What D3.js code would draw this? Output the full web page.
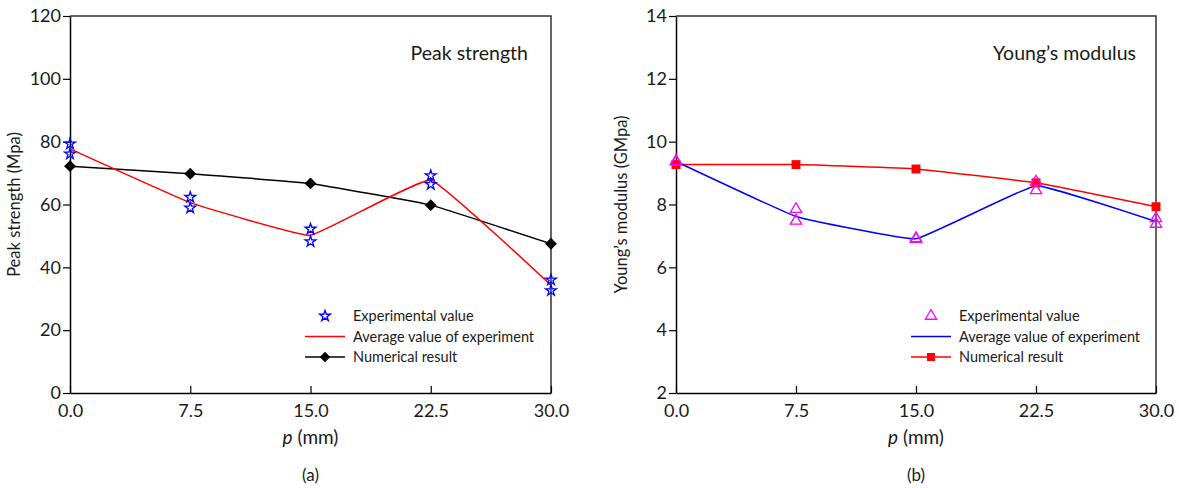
<!DOCTYPE html>
<html>
<head>
<meta charset="utf-8">
<script src="https://cdn.jsdelivr.net/npm/d3@7"></script>
<style>
  body { margin: 0; background: #fff; }
  svg { font-family: Lato, "Open Sans", sans-serif; }
</style>
</head>
<body>
<svg id="drawing_region" width="1179" height="488"></svg>
<script>
// p values (mm) and tick labels
const pValues = [0, 7.5, 15, 22.5, 30];
const xTicks = [0, 7.5, 15, 22.5, 30];

// (a) peak strength, MPa
const strengthExp1 = [79.3, 62.3, 52.2, 69.2, 36.0];
const strengthExp2 = [76.1, 58.9, 48.2, 66.4, 32.6];
const strengthAvg  = [77.7, 60.6, 50.2, 67.8, 34.3];
const strengthNum  = [72.2, 69.8, 66.7, 59.8, 47.5];
const strengthTicks = [0, 20, 40, 60, 80, 100, 120];

// (b) Young's modulus, GPa
const modulusExp1 = [9.38, 7.85, 6.92, 8.72, 7.56];
const modulusExp2 = [9.36, 7.48, 6.90, 8.45, 7.38];
const modulusAvg  = [9.37, 7.62, 6.91, 8.60, 7.46];
const modulusNum  = [9.27, 9.27, 9.13, 8.69, 7.93];
const modulusTicks = [2, 4, 6, 8, 10, 12, 14];

const legendLabels = ['Experimental value', 'Average value of experiment', 'Numerical result'];

const svg = d3.select('#drawing_region');

function drawPanel( config ) {
    const width = config.x1 - config.x0;
    const height = config.y1 - config.y0;

    const chart = svg.append('g')
        .attr('transform', `translate(${config.x0}, ${config.y0})`);

    const xscale = d3.scaleLinear()
        .domain([0, 30])
        .range([0, width]);

    const yscale = d3.scaleLinear()
        .domain(config.ydomain)
        .range([height, 0]);

    // frame (top and right)
    chart.append('path')
        .attr('d', `M0,0H${width}V${height}`)
        .attr('fill', 'none')
        .attr('stroke', '#333')
        .attr('stroke-width', 1.5);

    const xaxis = d3.axisBottom( xscale )
        .tickValues( xTicks )
        .tickFormat( d3.format('.1f') )
        .tickSizeInner(-7)
        .tickSizeOuter(0)
        .tickPadding(11);

    const yaxis = d3.axisLeft( yscale )
        .tickValues( config.yticks )
        .tickSizeInner(7)
        .tickSizeOuter(0)
        .tickPadding(2);

    const xg = chart.append('g')
        .attr('transform', `translate(0, ${height})`)
        .call( xaxis );
    const yg = chart.append('g')
        .call( yaxis );

    [xg, yg].forEach( g => {
        g.select('.domain').attr('stroke', '#000').attr('stroke-width', 1.5);
        g.selectAll('.tick line').attr('stroke', '#000').attr('stroke-width', 1.2);
        g.selectAll('.tick text')
            .attr('font-size', 18)
            .attr('font-family', 'Lato, "Open Sans", sans-serif')
            .attr('fill', '#1a1a1a');
    });

    // axis titles
    const xt = chart.append('text')
        .attr('x', width / 2)
        .attr('y', height + 51)
        .attr('text-anchor', 'middle')
        .attr('font-size', 19)
        .attr('fill', '#1a1a1a');
    xt.append('tspan').attr('font-style', 'italic').text('p');
    xt.append('tspan').text(' (mm)');

    chart.append('text')
        .attr('transform', `translate(${config.ytitleX}, ${height / 2}) rotate(-90)`)
        .attr('text-anchor', 'middle')
        .attr('font-size', 16.5)
        .attr('fill', '#1a1a1a')
        .text( config.ytitle );

    chart.append('text')
        .attr('x', width / 2)
        .attr('y', height + 88)
        .attr('text-anchor', 'middle')
        .attr('font-size', 17)
        .attr('fill', '#1a1a1a')
        .text( config.caption );

    chart.append('text')
        .attr('x', config.nameX - config.x0)
        .attr('y', 60 - config.y0)
        .attr('text-anchor', 'end')
        .attr('font-size', 19.5)
        .attr('fill', '#1a1a1a')
        .text( config.name );

    const line = d3.line()
        .x( (d, i) => xscale( pValues[i] ) )
        .y( d => yscale( d ) )
        .curve( d3.curveCardinal.tension(0.75) );

    // numerical result
    chart.append('path')
        .datum( config.num )
        .attr('d', line)
        .attr('fill', 'none')
        .attr('stroke', config.numColor)
        .attr('stroke-width', 1.5);

    // average of experiment
    chart.append('path')
        .datum( config.avg )
        .attr('d', line)
        .attr('fill', 'none')
        .attr('stroke', config.avgColor)
        .attr('stroke-width', 1.5);

    chart.selectAll('.num-mark')
        .data( config.num )
        .join('path')
        .attr('class', 'num-mark')
        .attr('transform', (d, i) => `translate(${xscale(pValues[i])}, ${yscale(d)}) rotate(${config.numRotate})`)
        .attr('d', d3.symbol().type( config.numSymbol ).size( config.numSize ))
        .attr('fill', config.numColor);

    const expData = [];
    config.exp.forEach( arr => arr.forEach( (d, i) => expData.push({ p: pValues[i], v: d }) ) );

    chart.selectAll('.exp-mark')
        .data( expData )
        .join('path')
        .attr('class', 'exp-mark')
        .attr('transform', d => `translate(${xscale(d.p)}, ${yscale(d.v)})`)
        .attr('d', d3.symbol().type( config.expSymbol ).size( config.expSize ))
        .attr('fill', 'none')
        .attr('stroke', config.expColor)
        .attr('stroke-width', 1.3);

    // legend
    const lg = svg.append('g')
        .attr('transform', `translate(${config.legendX}, 316)`);
    lg.append('path')
        .attr('transform', 'translate(20, 0)')
        .attr('d', d3.symbol().type( config.expSymbol ).size( config.expSize ))
        .attr('fill', 'none')
        .attr('stroke', config.expColor)
        .attr('stroke-width', 1.3);
    lg.append('line')
        .attr('x1', 0).attr('x2', 40).attr('y1', 20.5).attr('y2', 20.5)
        .attr('stroke', config.avgColor).attr('stroke-width', 1.5);
    lg.append('line')
        .attr('x1', 0).attr('x2', 40).attr('y1', 41).attr('y2', 41)
        .attr('stroke', config.numColor).attr('stroke-width', 1.5);
    lg.append('path')
        .attr('transform', `translate(20, 41) rotate(${config.numRotate})`)
        .attr('d', d3.symbol().type( config.numSymbol ).size( config.numSize * 0.8 ))
        .attr('fill', config.numColor);
    lg.selectAll('text')
        .data( legendLabels )
        .join('text')
        .attr('x', 48)
        .attr('y', (d, i) => i * 20.5 + 5)
        .attr('font-size', 14.5)
        .attr('fill', '#1a1a1a')
        .text( d => d );
}

drawPanel({
    x0: 70, x1: 551, y0: 16, y1: 393,
    ydomain: [0, 120], yticks: strengthTicks,
    ytitle: 'Peak strength (Mpa)', ytitleX: -50,
    caption: '(a)', name: 'Peak strength', nameX: 528,
    exp: [strengthExp1, strengthExp2], avg: strengthAvg, num: strengthNum,
    expSymbol: d3.symbolStar, expSize: 36, expColor: '#0000ff',
    avgColor: '#ff0000',
    numSymbol: d3.symbolSquare, numSize: 70, numRotate: 45, numColor: '#000000',
    legendX: 305
});

drawPanel({
    x0: 676, x1: 1156, y0: 16, y1: 393,
    ydomain: [2, 14], yticks: modulusTicks,
    ytitle: 'Young\u2019s modulus (GMpa)', ytitleX: -49,
    caption: '(b)', name: 'Young\u2019s modulus', nameX: 1136,
    exp: [modulusExp1, modulusExp2], avg: modulusAvg, num: modulusNum,
    expSymbol: d3.symbolTriangle, expSize: 55, expColor: '#ff00ff',
    avgColor: '#0000ff',
    numSymbol: d3.symbolSquare, numSize: 80, numRotate: 0, numColor: '#ff0000',
    legendX: 911
});
</script>
</body>
</html>
